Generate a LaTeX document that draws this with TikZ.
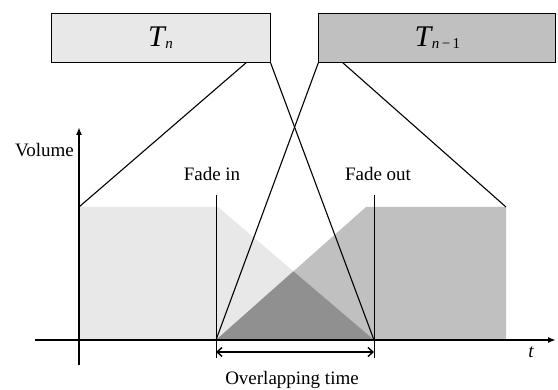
\documentclass[tikz,border=0pt]{standalone}
\usepackage{fontspec}
\setmainfont{Liberation Serif}
\usetikzlibrary{arrows.meta, positioning}
\definecolor{tnfill}{RGB}{232,232,232}
\definecolor{tmfill}{RGB}{192,192,192}
\definecolor{overlapfill}{RGB}{144,144,144}
\newcommand{\trackname}[2]{{\fontsize{30}{32}\selectfont\itshape T}\kern0.5pt\raisebox{-2pt}{\fontsize{15}{16}\selectfont\textit{#1}#2}}

\begin{document}
\begin{tikzpicture}[x=1pt, y=-1pt, font=\fontsize{19}{21}\selectfont,
    track/.style={draw=black, line width=0.9pt, minimum height=49pt, inner sep=0pt},
    link/.style={line width=1.1pt},
    marker/.style={line width=0.7pt},
    axis/.style={line width=1.6pt, -{Latex[length=8pt,width=6pt]}},
    label/.style={anchor=base, inner sep=0pt}]
        \useasboundingbox (0,0) rectangle (558,390);
        % Track boxes
        \node[track, fill=tnfill, minimum width=219pt] (tn) at (160.5,37.5) {\trackname{n}{}};
        \node[track, fill=tmfill, minimum width=237pt, right=48pt of tn] (tnm) {\trackname{n}{\,−\,1}};
        % Points on the time axis
        \coordinate (vtop) at (79,207);
        \coordinate (fin) at (216,340);
        \coordinate (fout) at (374,340);
        \coordinate (rtop) at (506,207);
        % Volume areas
        \fill[tnfill] (79,340) -- (vtop) -- (218,207) -- (fout) -- cycle;
        \fill[tmfill] (fin) -- (366,207) -- (rtop) -- (506,340) -- cycle;
        \begin{scope}
          \clip (79,340) -- (vtop) -- (218,207) -- (fout) -- cycle;
          \fill[overlapfill] (fin) -- (366,207) -- (rtop) -- (506,340) -- cycle;
        \end{scope}
        % Axes
        \draw[axis] (35,340) -- (556,340);
        \draw[axis] (79,365) -- (79,127);
        \draw[marker] (216,195) -- (216,358);
        \draw[marker] (374,195) -- (374,358);
        \draw[line width=1.4pt, {Straight Barb[length=5pt,width=9pt]}-{Straight Barb[length=5pt,width=9pt]}]
          ([yshift=-12pt]fin) -- ([yshift=-12pt]fout);
        % Links from the boxes
        \draw[link] ([xshift=-24pt]tn.south east) -- (vtop);
        \draw[link] (tn.south east) -- (fout);
        \draw[link] (tnm.south west) -- (fin);
        \draw[link] ([xshift=24pt]tnm.south west) -- (rtop);
        % Labels
        \node[label, anchor=base east] (volume) at (74,157) {Volume};
        \node[label] (fadein) at (212,181) {Fade in};
        \node[label] (fadeout) at (378,181) {Fade out};
        \node[label] (tlabel) at (531,358) {\itshape t};
        \node[label] (overlap) at (292,385) {Overlapping time};
      \end{tikzpicture}
\end{document}
